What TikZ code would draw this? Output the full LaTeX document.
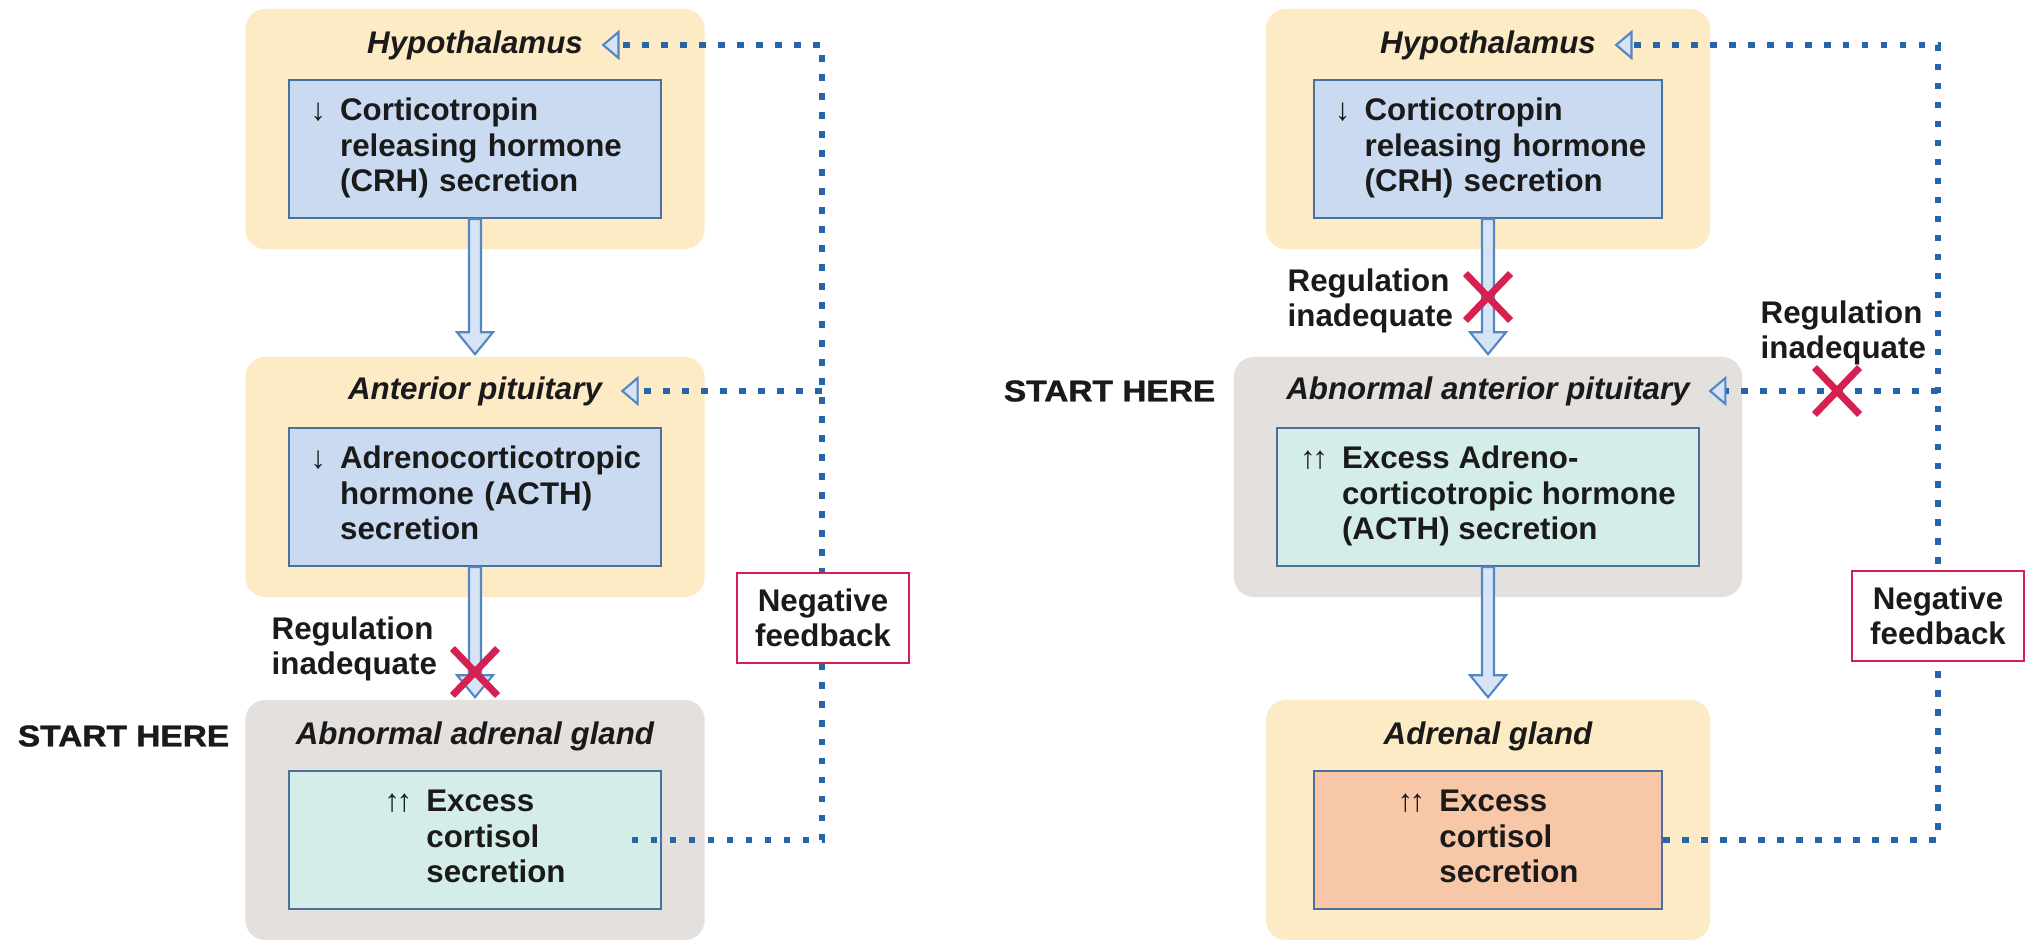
\documentclass[tikz,border=0pt]{standalone}
\usepackage{fontspec}
\setmainfont{Liberation Sans}
\newfontfamily\heavyfont[UprightFont={* Bold}, FakeBold=1.3, FakeStretch=1.12]{Liberation Sans}
\usetikzlibrary{arrows.meta,calc,shapes.misc}

\definecolor{glandyellow}{RGB}{252,235,197}
\definecolor{glandgray}{RGB}{227,224,222}
\definecolor{hormblue}{RGB}{202,218,240}
\definecolor{hormgreen}{RGB}{213,237,232}
\definecolor{hormorange}{RGB}{248,199,168}
\definecolor{boxline}{RGB}{74,112,160}
\definecolor{fatfill}{RGB}{214,228,246}
\definecolor{fatline}{RGB}{84,134,194}
\definecolor{dotblue}{RGB}{38,102,166}
\definecolor{crossred}{RGB}{214,32,82}
\definecolor{inktext}{RGB}{26,26,26}

% hollow block arrow from box #1 down to box #2
\newcommand{\fatarrow}[2]{%
  \filldraw[fatarrow]
    ($(#1.south)+(-6,0)$) -- ($(#1.south |- #2.north)+(-6,-24)$)
    -- ($(#1.south |- #2.north)+(-18,-24)$) -- ($(#1.south |- #2.north)+(0,-2)$)
    -- ($(#1.south |- #2.north)+(18,-24)$) -- ($(#1.south |- #2.north)+(6,-24)$)
    -- ($(#1.south)+(6,0)$) -- cycle;}

\begin{document}
\begin{tikzpicture}[x=0.01cm, y=-0.01cm,
  every node/.style={text=inktext},
  gland/.style={rounded corners=0.2cm, minimum height=2.4cm, inner sep=0},
  hormone/.style={draw=boxline, line width=0.6pt, minimum height=1.38cm, inner sep=0,
    font=\fontsize{8.9}{10}\bfseries},
  leftset/.style={align=left, inner xsep=0.21cm, text width=#1},
  organ/.style={font=\fontsize{8.9}{10}\bfseries\itshape, inner xsep=0.18cm, inner ysep=0},
  note/.style={align=left, inner sep=0, font=\fontsize{8.9}{10}\bfseries},
  starthere/.style={inner sep=0, font=\fontsize{8.5}{10}\heavyfont},
  fatarrow/.style={fill=fatfill, draw=fatline, line width=0.6pt},
  feedback/.style={dotblue, line width=1.9pt, dash pattern=on 1.9pt off 3.5pt,
    -{Triangle[length=0.18cm, width=0.3cm, line width=0.6pt, color=fatline, fill=fatfill]}},
  crossmark/.style={cross out, draw=crossred, line width=2pt, minimum width=0.38cm,
    minimum height=0.4cm, inner sep=0},
  loopbox/.style={draw=crossred, line width=0.8pt, fill=white, minimum width=1.72cm,
    minimum height=0.9cm, inner sep=0, align=center, font=\fontsize{8.9}{10}\bfseries}]

\useasboundingbox (0,0) rectangle (2027,940);

% left: the adrenal gland is abnormal
\node[gland, fill=glandyellow, minimum width=4.59cm] (hypL) at (475,129) {};
\node[gland, fill=glandyellow, minimum width=4.59cm] (pitL) at (475,477) {};
\node[gland, fill=glandgray, minimum width=4.59cm] (adrL) at (475,820) {};
\node[organ] (hypLt) at (475,45) {Hypothalamus};
\node[organ] (pitLt) at (475,391) {Anterior pituitary};
\node[organ] (adrLt) at (475,736) {Abnormal adrenal gland};
\node[hormone, fill=hormblue, leftset=3.29cm] (crhL) at (475,149)
  {\begin{tabular}{@{}r@{\hspace{4pt}}l@{}}↓&Corticotropin\\&releasing hormone\\&(CRH) secretion\end{tabular}};
\node[hormone, fill=hormblue, leftset=3.29cm] (acthL) at (475,497)
  {\begin{tabular}{@{}r@{\hspace{4pt}}l@{}}↓&Adrenocorticotropic\\&hormone (ACTH)\\&secretion\end{tabular}};
\node[hormone, fill=hormgreen, minimum width=3.71cm] (cortL) at (475,840)
  {\begin{tabular}{@{}r@{\hspace{4pt}}l@{}}↑\kern-1pt↑&Excess\\&cortisol\\&secretion\end{tabular}};
\node[starthere, anchor=east] (startL) at (230,736) {START HERE};

\fatarrow{crhL}{pitL}
\fatarrow{acthL}{adrL}

\coordinate (railL) at (822,45);
\coordinate (srcL) at ($(cortL.east)+(-30,0)$);
\draw[feedback] (srcL) -| (railL) -- (hypLt.east);
\draw[feedback] (railL |- pitLt.east) -- (pitLt.east);

\node[crossmark] (xL) at (475,672) {};
\node[note, anchor=west] (regL) at (271,649) {Regulation\\inadequate};
\node[loopbox] (fbL) at (823,618) {Negative\\feedback};

% right: the anterior pituitary is abnormal
\node[gland, fill=glandyellow, minimum width=4.44cm] (hypR) at (1488,129) {};
\node[gland, fill=glandgray, minimum width=5.08cm] (pitR) at (1488,477) {};
\node[gland, fill=glandyellow, minimum width=4.44cm] (adrR) at (1488,820) {};
\node[organ] (hypRt) at (1488,45) {Hypothalamus};
\node[organ] (pitRt) at (1488,391) {Abnormal anterior pituitary};
\node[organ] (adrRt) at (1488,736) {Adrenal gland};
\node[hormone, fill=hormblue, leftset=3.06cm] (crhR) at (1488,149)
  {\begin{tabular}{@{}r@{\hspace{4pt}}l@{}}↓&Corticotropin\\&releasing hormone\\&(CRH) secretion\end{tabular}};
\node[hormone, fill=hormgreen, minimum width=4.21cm] (acthR) at (1488,497)
  {\begin{tabular}{@{}r@{\hspace{4pt}}l@{}}↑\kern-1pt↑&Excess Adreno-\\&corticotropic hormone\\&(ACTH) secretion\end{tabular}};
\node[hormone, fill=hormorange, minimum width=3.48cm] (cortR) at (1488,840)
  {\begin{tabular}{@{}r@{\hspace{4pt}}l@{}}↑\kern-1pt↑&Excess\\&cortisol\\&secretion\end{tabular}};
\node[starthere, anchor=east] (startR) at (1216,391) {START HERE};

\fatarrow{crhR}{pitR}
\fatarrow{acthR}{adrR}

\coordinate (railR) at (1938,45);
\draw[feedback] (cortR.east) -| (railR) -- (hypRt.east);
\draw[feedback] (railR |- pitRt.east) -- (pitRt.east);

\node[crossmark] (xR) at (1488,297) {};
\node[note, anchor=west] (regR) at (1287,301) {Regulation\\inadequate};
\node[crossmark] (xFb) at (1837,391) {};
\node[note, anchor=west] (regFb) at (1760,333) {Regulation\\inadequate};
\node[loopbox] (fbR) at (1938,616) {Negative\\feedback};

\end{tikzpicture}
\end{document}
